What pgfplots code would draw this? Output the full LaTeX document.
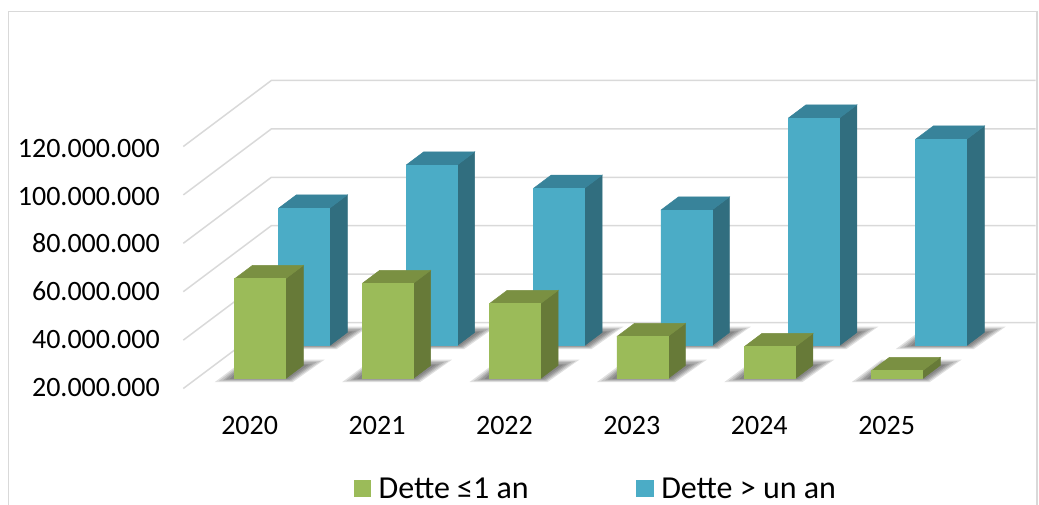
\documentclass[border=0pt]{standalone}
\usepackage{pgfplots}
\usepackage{pgfplotstable}
\pgfplotsset{compat=1.18}
\usepackage{fontspec}
\setmainfont{Carlito}
\definecolor{gfront}{HTML}{9BBB59}
\definecolor{gside}{HTML}{677A38}
\definecolor{gtop}{HTML}{7A9042}
\definecolor{bfront}{HTML}{4BACC6}
\definecolor{bside}{HTML}{316E7F}
\definecolor{btop}{HTML}{38839A}
\definecolor{gridc}{HTML}{D9D9D9}
\pgfplotstableread{
idx green blue
0 61.3 76.8
1 59.3 94.6
2 51.0 85.0
3 37.4 76.0
4 33.2 114.0
5 23.3 105.3
}\debt
\pgfplotstableread{
px py z
-20 -3.5 20
58 -3.5 20
90 19 20
10 19 20
}\shA
\pgfplotstableread{
px py z
-16 -2.5 20
57 -2.5 20
86 17.5 20
10 17.5 20
}\shB
\pgfplotstableread{
px py z
-12 -1.8 20
56 -1.8 20
82 16.5 20
10 16.5 20
}\shC
\pgfplotstableread{
px py z
-9 -1 20
55 -1 20
78 15 20
10 15 20
}\shD
\pgfplotstableread{
px py z
-5 -0.5 20
53 -0.5 20
74 14 20
10 14 20
}\shE
\newcommand\shadowlayer[3]{%
  \addplot3[fill=black,fill opacity=.12,draw=none,forget plot,no marks] table[
    x expr={#1+(\thisrow{px}-1.3333*\thisrow{py})/127.4},
    y expr={#2+\thisrow{py}/66},
    z=z] {#3};}
\newcommand\barshadow[2]{\shadowlayer{#1}{#2}{\shA}\shadowlayer{#1}{#2}{\shB}\shadowlayer{#1}{#2}{\shC}\shadowlayer{#1}{#2}{\shD}\shadowlayer{#1}{#2}{\shE}}
\newcommand\dbar[6]{%
  \pgfmathsetmacro\xa{#1}\pgfmathsetmacro\xb{#1+0.4}%
  \pgfmathsetmacro\da{#2}\pgfmathsetmacro\db{#2+0.2}%
  \edef\tmp{%
  \noexpand\addplot3[fill=#5,draw=#5,line width=.5pt,forget plot,no marks] coordinates {(\xb,\da,20)(\xb,\db,20)(\xb,\db,#3)(\xb,\da,#3)(\xb,\da,20)};
  \noexpand\addplot3[fill=#6,draw=#6,line width=.5pt,forget plot,no marks] coordinates {(\xa,\da,#3)(\xb,\da,#3)(\xb,\db,#3)(\xa,\db,#3)(\xa,\da,#3)};
  \noexpand\addplot3[fill=#4,draw=#4,line width=.5pt,forget plot,no marks] coordinates {(\xa,\da,20)(\xb,\da,20)(\xb,\da,#3)(\xa,\da,#3)(\xa,\da,20)};
  }\tmp}
\begin{document}
\begin{tikzpicture}[x=1pt,y=1pt]
\useasboundingbox (0,0) rectangle (1039,504);
\draw[gridc,line width=1.5pt] (8.7,-6) -- (8.7,492.3) -- (1037,492.3) -- (1037,-6);
\begin{axis}[
  at={(23,175)},anchor=south west,
  x={(127.4pt,0pt)},y={(88pt,66pt)},z={(0pt,2.42pt)},
  xmin=0,xmax=6,ymin=0,ymax=1,zmin=20,zmax=120,
  clip=false,
  axis line style={draw=none},
  major tick length=0pt,
  minor tick num=0,
  ytick=\empty,
  xtick={0.5,1.5,2.5,3.5,4.5,5.5},
  xticklabels={2020,2021,2022,2023,2024,2025},
  ztick={20,40,60,80,100,120},
  zticklabels={20.000.000,40.000.000,60.000.000,80.000.000,100.000.000,120.000.000},
  tick label style={font=\fontsize{28}{30}\selectfont},
  x tick label style={xshift=9pt,yshift=-24pt},
  z tick label style={xshift=-20pt,yshift=23pt},
  legend columns=2,
  legend cell align=left,
  legend style={draw=none,fill=none,at={(0.484,-0.325)},anchor=center,
    font=\fontsize{32}{34}\selectfont,
    /tikz/every even column/.append style={column sep=105.5pt}},
]
\pgfplotsinvokeforeach{20,40,60,80,100,120}{
  \addplot3[gridc,line width=1.5pt,forget plot,no marks] coordinates {(0,0,#1)(0,1,#1)(6,1,#1)};
}
\pgfplotsinvokeforeach{0,...,5}{
  \pgfmathsetmacro\xx{#1+0.3}
  \barshadow{\xx}{0.65}
}
\pgfplotsinvokeforeach{0,...,5}{
  \pgfplotstablegetelem{#1}{blue}\of\debt
  \edef\val{\pgfplotsretval}
  \pgfmathsetmacro\xx{#1+0.3}
  \dbar{\xx}{0.65}{\val}{bfront}{bside}{btop}
}
\pgfplotsinvokeforeach{0,...,5}{
  \pgfmathsetmacro\xx{#1+0.3}
  \barshadow{\xx}{0.15}
}
\pgfplotsinvokeforeach{0,...,5}{
  \pgfplotstablegetelem{#1}{green}\of\debt
  \edef\val{\pgfplotsretval}
  \pgfmathsetmacro\xx{#1+0.3}
  \dbar{\xx}{0.15}{\val}{gfront}{gside}{gtop}
}
\addlegendimage{legend image code/.code={\path[draw=none] (0pt,0pt) -- (23pt,0pt);\fill[gfront,draw=none] (0pt,-8.5pt) rectangle (17.5pt,9pt);}}
\addlegendentry{Dette ≤1 an}
\addlegendimage{legend image code/.code={\path[draw=none] (0pt,0pt) -- (23pt,0pt);\fill[bfront,draw=none] (0pt,-8.5pt) rectangle (17.5pt,9pt);}}
\addlegendentry{Dette > un an}
\end{axis}
\end{tikzpicture}
\end{document}
